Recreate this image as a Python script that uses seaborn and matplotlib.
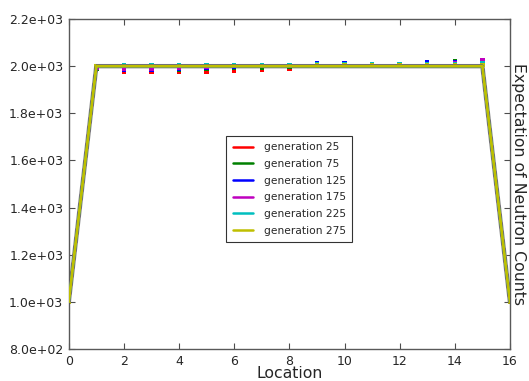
import numpy as np
import pandas as pd
import matplotlib
matplotlib.use("Agg")
import matplotlib.pyplot as plt
from matplotlib.ticker import FormatStrFormatter
import seaborn as sns

locations = list(range(17))
generations = [25, 75, 125, 175, 225, 275]
colors = ["#ff0000", "#008000", "#0000ff", "#bf00bf", "#00bfbf", "#bfbf00"]

# expected counts per location (same for every generation)
expected = [1000] + [2000] * 15 + [1000]

# estimated counts per generation (small squares)
est_25 = [1000, 1990, 1978, 1975, 1975, 1978, 1982, 1985, 1990, 2000, 2003, 2005, 2008, 2010, 2012, 2020, 1000]
est_75 = [1000, 1988, 1990, 1992, 1985, 1990, 1993, 1995, 1998, 2005, 2008, 2008, 2010, 2015, 2022, 2022, 1000]
est_125 = [1000, 1992, 1985, 1985, 1990, 1995, 1998, 2000, 2003, 2012, 2012, 2010, 2010, 2018, 2018, 2016, 1000]
est_175 = [1000, 1995, 1987, 1990, 1995, 1998, 2000, 2000, 2003, 2008, 2008, 2008, 2008, 2010, 2012, 2024, 1000]
est_225 = [1000, 2002, 2004, 2004, 2004, 2004, 2004, 2003, 2006, 2008, 2008, 2010, 2010, 2008, 2008, 2012, 1000]
est_275 = [1000, 2000, 2000, 2000, 2000, 2000, 2000, 2002, 2002, 2003, 2004, 2004, 2004, 2004, 2004, 2006, 1000]
estimates = [est_25, est_75, est_125, est_175, est_225, est_275]

rows = []
for g, est in zip(generations, estimates):
    for x, e, m in zip(locations, expected, est):
        rows.append({"loc": x, "expected": e, "estimate": m, "gen": "generation %d" % g})
df = pd.DataFrame(rows)
order = ["generation %d" % g for g in generations]

sns.set_style("ticks")
plt.rcParams['font.family'] = ['DejaVu Sans']

fig = plt.figure(figsize=(5.29, 3.81), dpi=100)
ax = fig.add_axes([0.130, 0.084, 0.834, 0.866])

# grey underlay of the expectation curve
ax.plot(locations, expected, color="0.55", lw=3.2, zorder=1, solid_joinstyle="miter")

sns.scatterplot(data=df, x="loc", y="estimate", hue="gen", hue_order=order,
                palette=colors, marker="s", s=10, linewidth=0, legend=False,
                ax=ax, zorder=2)
sns.lineplot(data=df, x="loc", y="expected", hue="gen", hue_order=order,
             palette=colors, lw=2.0, ax=ax, zorder=3)

ax.set_xlim(0, 16)
ax.set_ylim(800, 2200)
ax.set_xticks(range(0, 17, 2))
ax.set_yticks(range(800, 2201, 200))
ax.yaxis.set_major_formatter(FormatStrFormatter("%.1e"))
ax.tick_params(direction="in", top=True, right=True, length=4, width=0.8,
               labelsize=9, pad=4, color="0.3")
for s in ax.spines.values():
    s.set_color("0.35")
    s.set_linewidth(1.0)

ax.set_xlabel("Location", fontsize=11.3, va="center")
ax.xaxis.set_label_coords(0.5, -0.075)
ax.set_ylabel("Expectation of Neutron Counts", fontsize=11.3, rotation=270,
              ha="center", va="center")
ax.yaxis.set_label_coords(1.02, 0.5)

leg = ax.legend(loc="center", fontsize=7.7, handlelength=1.9, labelspacing=0.62,
                handletextpad=1.0, fancybox=False, frameon=True, borderpad=0.6,
                bbox_to_anchor=(0.5, 0.485))
leg.get_frame().set_edgecolor("black")
leg.get_frame().set_linewidth(0.8)
for h in leg.get_lines():
    h.set_linewidth(1.8)

fig.savefig("out.png", dpi=100)
